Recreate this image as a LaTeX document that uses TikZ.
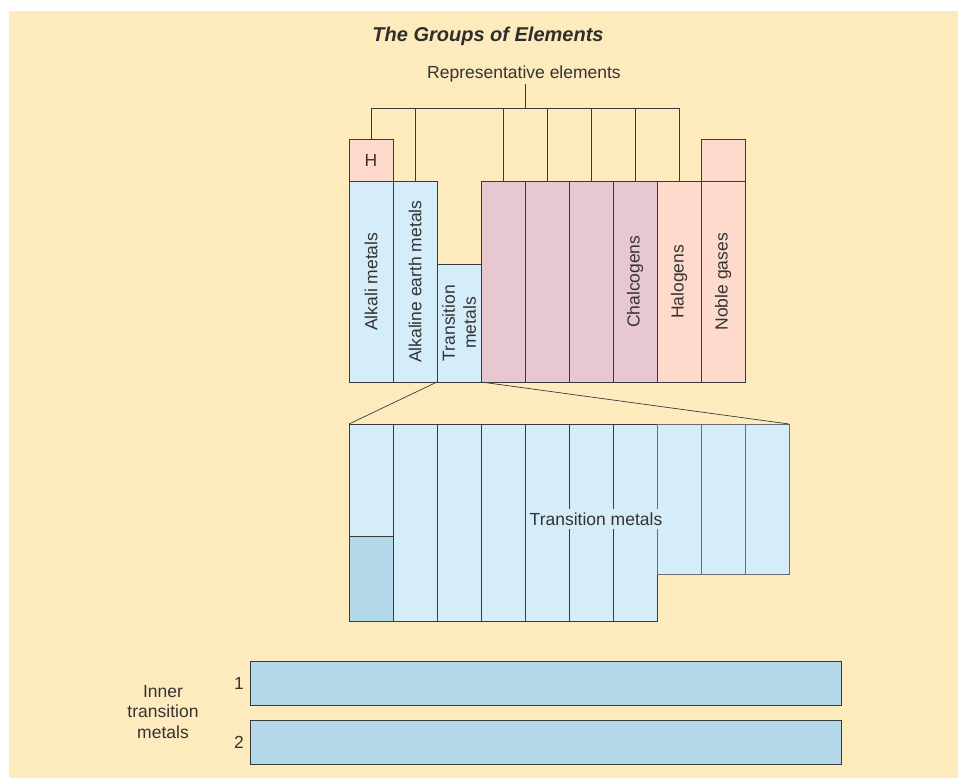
\documentclass[tikz,border=0pt]{standalone}
\usepackage{fontspec}
\setmainfont{Liberation Sans}
\definecolor{bgc}{HTML}{FEEBBD}
\definecolor{lblue}{HTML}{D5ECF9}
\definecolor{dblue}{HTML}{B3D8EA}
\definecolor{mauve}{HTML}{E8C8D0}
\definecolor{peach}{HTML}{FDDACB}
\definecolor{linec}{HTML}{3A3A3A}
\tikzset{
  x=1pt, y=-1pt,
  txt/.style={font=\fontsize{17.5}{21}\selectfont, text=linec!90!black, inner sep=2pt},
  cellbox/.style={draw=linec, line width=0.9pt, inner sep=0pt, outer sep=0pt,
    font=\fontsize{17.5}{21}\selectfont, text=linec!90!black, align=center},
  tall/.style={cellbox, minimum width=200.5pt, minimum height=44pt, rotate=90},
  wire/.style={draw=linec, line width=0.9pt},
}
\begin{document}
\begin{tikzpicture}
\useasboundingbox (0,0) rectangle (958,778);
\fill[white] (0,0) rectangle (958,778);
\fill[bgc] (9,11) rectangle (958,778);

% title
\node[font=\fontsize{20}{24}\selectfont\bfseries\itshape, text=linec!80!black] (title) at (488,36) {The Groups of Elements};

% bracket label
\node[txt] (rep) at (524,74) {Representative elements};

% top cells
\node[cellbox, fill=peach, minimum width=44pt, minimum height=42pt] (H) at (371,160.5) {H};
\node[cellbox, fill=peach, minimum width=44pt, minimum height=42pt] (ngtop) at (723,160.5) {};

\node[tall, fill=lblue] (alk) at (371,281.75) {Alkali metals};
\node[tall, fill=lblue] (ae) at (415,281.75) {Alkaline earth metals};
\node[cellbox, fill=lblue, minimum width=118pt, minimum height=44pt, rotate=90] (tm) at (459,323) {Transition\\metals};
\node[tall, fill=mauve] (g13) at (503,281.75) {};
\node[tall, fill=mauve] (g14) at (547,281.75) {};
\node[tall, fill=mauve] (g15) at (591,281.75) {};
\node[tall, fill=mauve] (chal) at (635,281.75) {Chalcogens};
\node[tall, fill=peach] (hal) at (679,281.75) {Halogens};
\node[tall, fill=peach] (nob) at (723,281.75) {Noble gases};

% bracket
\coordinate (bstem) at (525,108);
\coordinate (bl) at (371,108);
\coordinate (brr) at (679,108);
\draw[wire] (bstem |- rep.south) -- (bstem);
\draw[wire] (bl) -- (brr);
\foreach \n in {ae, g13, g14, g15, chal, hal}
  \draw[wire] (\n.east |- bl) -- (\n.east);
\draw[wire] (H.north |- bl) -- (H.north);

% expanded transition metals
\foreach \i/\xx in {1/371, 2/415, 3/459, 4/503, 5/547, 6/591, 7/635}
  \node[cellbox, fill=lblue, minimum width=44pt, minimum height=197pt] (t\i) at (\xx,522.5) {};
\foreach \i/\xx in {8/679, 9/723, 10/767}
  \node[cellbox, fill=lblue, minimum width=44pt, minimum height=150pt, draw=linec!75] (t\i) at (\xx,499) {};
\node[cellbox, fill=dblue, minimum width=44pt, minimum height=85pt] (t1b) at (371,578.5) {};
\node[txt, fill=lblue, inner sep=4pt] (tmlab) at (596,519) {Transition metals};

% fan lines (tm is rotated: north west = lower left, south west = lower right)
\draw[wire, line width=0.7pt] (tm.north west) -- (t1.north west);
\draw[wire, line width=0.7pt] (tm.south west) -- (t10.north east);

% inner transition metals
\node[cellbox, fill=dblue, minimum width=591pt, minimum height=44pt] (bar1) at (545.5,683) {};
\node[cellbox, fill=dblue, minimum width=591pt, minimum height=44pt] (bar2) at (545.5,742) {};
\node[txt, anchor=east] (n1) at (246,683) {1};
\node[txt, anchor=east] (n2) at (246,742) {2};
\node[txt, align=center, font=\fontsize{17.5}{20.5}\selectfont] (itm) at (163,712) {Inner\\transition\\metals};
\end{tikzpicture}
\end{document}
